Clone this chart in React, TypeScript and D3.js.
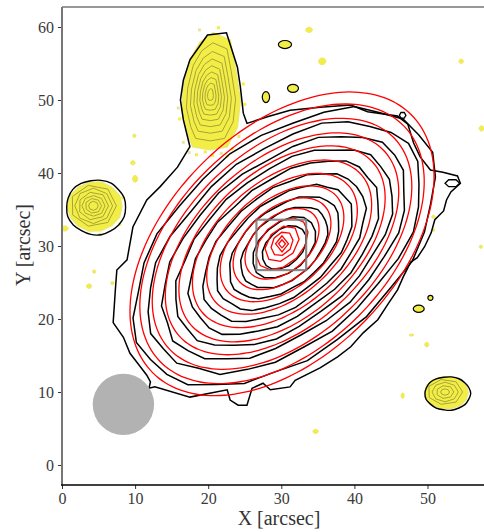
import React, { useEffect, useRef } from 'react';
import * as d3 from 'd3';

const W = 484;
const H = 532;

const xTicks = [0, 10, 20, 30, 40, 50];
const yTicks = [0, 10, 20, 30, 40, 50, 60];
const xDomain = [0, 59];
const yDomain = [-2.74, 62.74];

// model isophotes (red ellipses): semi-major axis, axis ratio, position angle, vertices
const modelA = [25.0, 23.2, 21.1, 18.9, 16.7, 14.4, 12.1, 9.9, 7.8, 5.9, 4.2, 2.8, 1.8, 1.1, 0.55];
const modelQ = [0.62, 0.62, 0.61, 0.6, 0.6, 0.6, 0.6, 0.61, 0.62, 0.64, 0.66, 0.7, 0.74, 0.8, 0.85];
const modelPA = [45, 44, 43, 42, 42, 41, 41, 41, 41, 42, 45, 50, 55, 90, 90];
const modelSides = [90, 90, 90, 90, 90, 90, 80, 70, 60, 40, 12, 8, 8, 4, 4];
const modelCenter = [30.1, 30.3];

// observed isophotes (black), inner levels
const obsA = [24.0, 21.8, 19.6, 17.4, 15.2, 13.0, 10.9, 8.8, 6.9, 5.1, 3.5];
const obsQ = [0.6, 0.59, 0.58, 0.58, 0.58, 0.58, 0.58, 0.6, 0.62, 0.64, 0.68];
const obsPA = [40, 40, 40, 40, 40, 40, 40, 40, 41, 42, 45];
const obsCenter = [30.4, 29.8];
const obsWobble = [1.0, 1.012, 0.995, 1.018, 1.0, 0.985, 1.006, 1.02, 1.0, 0.99, 1.012, 1.0, 0.98, 1.006, 1.016, 0.995, 1.0, 1.012, 0.99, 1.006, 0.985, 1.016];

// outermost observed isophote
const envelope: [number, number][] = [
  [19.9, 58.9], [22.5, 59.2], [24.0, 54.5], [24.4, 51.8], [24.8, 48.2], [25.3, 46.8],
  [28.1, 47.7], [31.2, 48.6], [35.3, 49.0], [39.5, 49.3], [41.8, 48.4], [45.9, 47.8],
  [47.3, 46.7], [48.1, 44.1], [49.0, 42.2], [50.4, 40.4], [52.1, 40.1], [54.1, 39.6],
  [54.5, 38.6], [53.2, 37.4], [52.6, 36.3], [52.2, 34.8], [51.0, 33.6], [50.5, 31.8],
  [49.6, 29.9], [48.6, 28.4], [47.7, 27.8], [46.7, 25.8], [45.9, 24.0], [44.5, 21.9],
  [43.2, 19.9], [41.2, 18.1], [39.5, 16.2], [37.7, 14.8], [35.3, 13.3], [31.9, 11.6],
  [31.2, 10.7], [28.5, 10.3], [27.5, 11.2], [26.0, 10.5], [25.3, 8.2], [24.1, 8.2],
  [23.0, 8.9], [22.6, 10.3], [17.5, 9.3], [12.7, 10.7], [11.9, 10.5], [12.1, 11.4],
  [11.6, 12.3], [10.3, 14.0], [9.3, 15.3], [8.4, 17.5], [7.0, 19.5], [7.3, 24.0],
  [7.5, 26.7], [8.9, 28.1], [9.7, 32.6], [11.6, 36.3], [13.4, 38.1], [15.8, 40.8],
  [17.5, 43.6], [16.6, 47.3], [16.2, 50.0], [16.6, 52.7], [17.5, 55.5]
];

// small knots in the outer isophote: x, y, rx, ry
const knots = [[46.6, 47.9, 0.45, 0.45], [53.4, 38.6, 1.0, 0.55]];

// northern companion, yellow outline and nested levels
const northOutline: [number, number][] = [
  [20.7, 59.2], [23.0, 58.2], [23.7, 54.5], [24.4, 50.0], [24.0, 46.3], [22.6, 43.6],
  [20.3, 43.2], [17.9, 43.6], [17.1, 45.5], [16.4, 48.6], [16.6, 51.8], [17.5, 55.5], [18.9, 57.9]
];
const northCenter = [20.3, 50.7];
const northLevels = [0.84, 0.7, 0.58, 0.47, 0.37, 0.28, 0.19, 0.1];

// round companions: cx, cy, rx, ry, black ring rx, ry
const roundX = [4.5, 52.6];
const roundY = [35.4, 9.9];
const roundRx = [3.7, 3.0];
const roundRy = [3.4, 2.2];
const ringRx = [4.05, 3.1];
const ringRy = [3.75, 2.3];
const roundLevels = [[0.85, 0.7, 0.56, 0.42, 0.3, 0.18], [0.8, 0.6, 0.4, 0.2]];

// faint sources: x, y, rx, ry, has black ring
const faintX = [30.5, 33.8, 35.6, 31.6, 27.9, 54.6, 57.4, 9.9, 9.7, 10.0, 0.4, 3.7, 4.4, 6.9, 48.8, 50.4, 47.8, 49.9, 46.6, 34.7, 50.8, 50.8, 57.3];
const faintY = [57.6, 59.6, 55.3, 51.6, 50.4, 55.3, 46.1, 45.1, 41.4, 39.2, 32.4, 24.5, 26.5, 24.9, 21.4, 22.9, 17.8, 16.5, 9.5, 4.6, 34.0, 32.2, 29.9];
const faintRx = [0.9, 0.45, 0.5, 0.75, 0.5, 0.3, 0.35, 0.22, 0.3, 0.35, 0.45, 0.35, 0.22, 0.22, 0.75, 0.35, 0.3, 0.28, 0.22, 0.38, 0.22, 0.18, 0.22];
const faintRy = [0.55, 0.35, 0.45, 0.55, 0.75, 0.3, 0.35, 0.22, 0.28, 0.45, 0.35, 0.3, 0.22, 0.22, 0.5, 0.35, 0.14, 0.32, 0.38, 0.28, 0.22, 0.22, 0.22];
const faintRing = [1, 0, 0, 1, 1, 0, 0, 0, 0, 0, 0, 0, 0, 0, 1, 1, 0, 0, 0, 0, 0, 0, 0];

// speckles on the edge of the northern companion
const speckX = [17.4, 18.4, 19.6, 21.8, 23.3, 16.1, 15.9, 25.0, 24.8, 18.8, 21.4, 24.2, 16.6, 20.6, 22.6, 1.3, 7.9, 8.3, 5.2];
const speckY = [42.8, 42.5, 42.9, 42.7, 43.3, 47.4, 48.9, 49.4, 52.2, 59.6, 59.9, 45.0, 44.2, 42.4, 42.3, 34.2, 33.0, 36.6, 31.6];

const beam = [8.4, 8.3, 4.2];
const box = [26.6, 33.4, 26.7, 33.6];

function ellipsePts(cx: number, cy: number, a: number, q: number, pa: number, n: number, wob?: number[], shift = 0) {
  const t = (pa * Math.PI) / 180;
  const pts: [number, number][] = [];
  for (let i = 0; i < n; i++) {
    const phi = (2 * Math.PI * i) / n;
    const w = wob ? wob[(i + shift) % wob.length] : 1;
    const u = a * Math.cos(phi) * w;
    const v = a * q * Math.sin(phi) * w;
    pts.push([cx + u * Math.cos(t) - v * Math.sin(t), cy + u * Math.sin(t) + v * Math.cos(t)]);
  }
  return pts;
}

export default function App() {
  const svgRef = useRef<SVGSVGElement>(null);

  useEffect(() => {
    const svg = d3.select(svgRef.current);
    svg.selectAll('*').remove();

    const x = d3.scaleLinear().domain(xDomain).range([62, 62 + 59 * 7.31]);
    const y = d3.scaleLinear().domain(yDomain).range([485, 7]);

    svg.append('defs').append('clipPath').attr('id', 'plotclip')
      .append('rect').attr('x', 62).attr('y', 7).attr('width', 440).attr('height', 478);

    const g = svg.append('g').attr('clip-path', 'url(#plotclip)');
    const closed = d3.line<[number, number]>().x(d => x(d[0])).y(d => y(d[1])).curve(d3.curveLinearClosed);
    const smooth = d3.line<[number, number]>().x(d => x(d[0])).y(d => y(d[1])).curve(d3.curveCardinalClosed);

    const yellow = '#f3ee45';
    const olive = '#a7a33a';

    // speckles
    speckX.forEach((sx, i) => {
      g.append('rect').attr('x', x(sx) - 1.5).attr('y', y(speckY[i]) - 1.5)
        .attr('width', 3).attr('height', 3).attr('fill', i % 3 === 0 ? '#e9e59a' : yellow);
    });

    // northern companion
    g.append('path').attr('d', closed(northOutline)).attr('fill', yellow).attr('stroke', '#ece86a').attr('stroke-width', 1.5);
    northLevels.forEach(f => {
      const pts = northOutline.map(p => [northCenter[0] + (p[0] - northCenter[0]) * f, northCenter[1] + (p[1] - northCenter[1]) * f] as [number, number]);
      g.append('path').attr('d', closed(pts)).attr('fill', 'none').attr('stroke', olive).attr('stroke-width', 1);
    });

    // round companions
    roundX.forEach((cx, i) => {
      const cy = roundY[i];
      g.append('path').attr('d', closed(ellipsePts(cx, cy, roundRx[i], roundRy[i] / roundRx[i], 0, 14, obsWobble, i * 5)))
        .attr('fill', yellow).attr('stroke', '#ece86a').attr('stroke-width', 1.5);
      roundLevels[i].forEach((f, k) => {
        g.append('path').attr('d', closed(ellipsePts(cx - 0.2, cy + 0.1, roundRx[i] * f, roundRy[i] / roundRx[i], 0, 7 + (k % 2), obsWobble, k)))
          .attr('fill', 'none').attr('stroke', olive).attr('stroke-width', 1);
      });
      g.append('path').attr('d', smooth(ellipsePts(cx + 0.15, cy - 0.1, ringRx[i], ringRy[i] / ringRx[i], 0, 18, obsWobble, i * 7)))
        .attr('fill', 'none').attr('stroke', '#000').attr('stroke-width', 1.4);
    });

    // faint sources
    faintX.forEach((fx, i) => {
      const pts = ellipsePts(fx, faintY[i], faintRx[i], faintRy[i] / faintRx[i], 0, 8);
      g.append('path').attr('d', smooth(pts)).attr('fill', yellow)
        .attr('stroke', faintRing[i] ? '#000' : '#ece86a').attr('stroke-width', faintRing[i] ? 1.2 : 1);
    });

    // observed isophotes
    g.append('path').attr('d', closed(envelope)).attr('fill', 'none').attr('stroke', '#000').attr('stroke-width', 1.5);
    knots.forEach(k => {
      g.append('path').attr('d', closed(ellipsePts(k[0], k[1], k[2], k[3] / k[2], 0, 6)))
        .attr('fill', 'none').attr('stroke', '#000').attr('stroke-width', 1.3);
    });
    obsA.forEach((a, i) => {
      const n = a > 6 ? 30 : 16;
      g.append('path').attr('d', closed(ellipsePts(obsCenter[0], obsCenter[1], a, obsQ[i], obsPA[i], n, obsWobble, i * 3)))
        .attr('fill', 'none').attr('stroke', '#000').attr('stroke-width', 1.5);
    });

    // model isophotes
    modelA.forEach((a, i) => {
      const pts = ellipsePts(modelCenter[0], modelCenter[1], a, modelQ[i], modelPA[i], modelSides[i]);
      const line = modelSides[i] > 20 ? smooth : closed;
      g.append('path').attr('d', line(pts)).attr('fill', 'none').attr('stroke', '#ff0000').attr('stroke-width', 1.3);
    });

    // zoom box
    g.append('rect').attr('x', x(box[0])).attr('y', y(box[3]))
      .attr('width', x(box[1]) - x(box[0])).attr('height', y(box[2]) - y(box[3]))
      .attr('fill', 'none').attr('stroke', '#777').attr('stroke-opacity', 0.85).attr('stroke-width', 2.2);

    // beam
    g.append('circle').attr('cx', x(beam[0])).attr('cy', y(beam[1])).attr('r', x(beam[2]) - x(0)).attr('fill', '#b2b2b2');

    // axes
    const font = "'Liberation Serif', 'DejaVu Serif', serif";
    const xAxis = svg.append('g').attr('transform', 'translate(0,485)')
      .call(d3.axisBottom(x).tickValues(xTicks).tickSize(4).tickPadding(4).tickFormat(d3.format('d')));
    const yAxis = svg.append('g').attr('transform', 'translate(62,0)')
      .call(d3.axisLeft(y).tickValues(yTicks).tickSize(4).tickPadding(4).tickFormat(d3.format('d')));
    [xAxis, yAxis].forEach(ax => {
      ax.select('.domain').remove();
      ax.selectAll('text').attr('font-family', font).attr('font-size', 16).attr('fill', '#3a3a3a');
      ax.selectAll('line').attr('stroke', '#333');
    });

    svg.append('line').attr('x1', 62).attr('x2', W).attr('y1', 7).attr('y2', 7).attr('stroke', '#333').attr('stroke-width', 1.2);
    svg.append('line').attr('x1', 62).attr('x2', 62).attr('y1', 7).attr('y2', 485).attr('stroke', '#777').attr('stroke-width', 2);
    svg.append('line').attr('x1', 61).attr('x2', W).attr('y1', 485).attr('y2', 485).attr('stroke', '#000').attr('stroke-width', 1.3);

    svg.append('text').attr('x', 279).attr('y', 525).attr('text-anchor', 'middle')
      .attr('font-family', font).attr('font-size', 20).attr('fill', '#333').text('X [arcsec]');
    svg.append('text').attr('transform', 'translate(30,245) rotate(-90)').attr('text-anchor', 'middle')
      .attr('font-family', font).attr('font-size', 20).attr('fill', '#333').text('Y [arcsec]');
  }, []);

  return (
    <div style={{ position: 'absolute', left: 0, top: 0 }}>
      <svg ref={svgRef} width={W} height={H} style={{ background: '#fff', display: 'block' }}></svg>
    </div>
  );
}
